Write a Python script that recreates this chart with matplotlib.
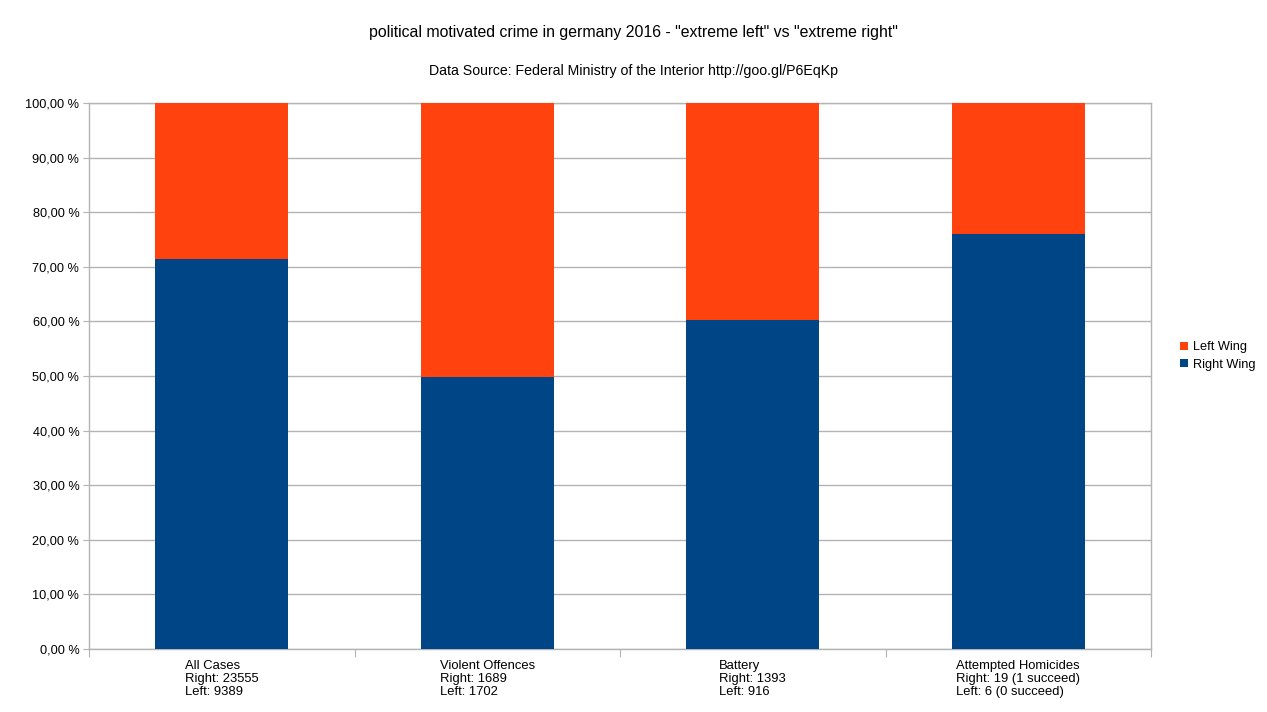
import matplotlib
matplotlib.use("Agg")
import matplotlib.pyplot as plt
import numpy as np
from matplotlib.ticker import FuncFormatter

plt.rcParams['font.family'] = ['Liberation Sans', 'DejaVu Sans']

categories = ["All Cases", "Violent Offences", "Battery", "Attempted Homicides"]
right_counts = [23555, 1689, 1393, 19]
left_counts = [9389, 1702, 916, 6]
right_notes = ["", "", "", " (1 succeed)"]
left_notes = ["", "", "", " (0 succeed)"]

right_pct = [100.0 * r / (r + l) for r, l in zip(right_counts, left_counts)]
left_pct = [100.0 * l / (r + l) for r, l in zip(right_counts, left_counts)]

labels = [f"{c}\nRight: {r}{rn}\nLeft: {l}{ln}" for c, r, l, rn, ln in
          zip(categories, right_counts, left_counts, right_notes, left_notes)]

col_right = "#004586"
col_left = "#ff420e"
grid_col = "#b3b3b3"

fig = plt.figure(figsize=(12.67, 7.12), dpi=100)
ax = fig.add_axes([89/1267, 1-649/712, (1151-89)/1267, (649-103)/712])

x = np.arange(len(categories))
ax.bar(x, right_pct, width=0.5, color=col_right, label="Right Wing", zorder=3)
ax.bar(x, left_pct, width=0.5, bottom=right_pct, color=col_left, label="Left Wing", zorder=3)

ax.set_xlim(-0.5, len(categories) - 0.5)
ax.set_ylim(0, 100)
ax.set_yticks(np.arange(0, 101, 10))
ax.yaxis.set_major_formatter(FuncFormatter(lambda v, p: f"{v:.2f}".replace(".", ",") + " %"))
ax.yaxis.grid(True, color=grid_col, linewidth=1, zorder=0)
ax.tick_params(axis='y', length=4, color=grid_col, labelsize=9.2, pad=3, labelcolor='black')

ax.set_xticks(np.arange(-0.5, len(categories), 1.0))
ax.set_xticklabels([])
ax.tick_params(axis='x', which='major', length=6, color=grid_col)
ax.set_xticks(x, minor=True)
ax.set_xticklabels(labels, minor=True, fontsize=9.4, linespacing=1.12, ha='center', multialignment='left')
ax.tick_params(axis='x', which='minor', length=0, pad=8)

for s in ax.spines.values():
    s.set_color(grid_col)
    s.set_linewidth(1)

fig.text(0.5, 1-33/712, 'political motivated crime in germany 2016 - "extreme left" vs "extreme right"',
         ha='center', va='center', fontsize=11.45)
fig.text(0.5, 1-71/712, 'Data Source: Federal Ministry of the Interior http://goo.gl/P6EqKp',
         ha='center', va='center', fontsize=10.2)

handles, lbls = ax.get_legend_handles_labels()
leg = fig.legend(handles[::-1], lbls[::-1], loc='center left', bbox_to_anchor=(1180/1267, 1-356/712),
                 frameon=False, fontsize=9.2, handlelength=0.6, handleheight=0.6, handletextpad=0.45,
                 labelspacing=0.4, borderaxespad=0, borderpad=0)

fig.savefig("out.png", dpi=100)
